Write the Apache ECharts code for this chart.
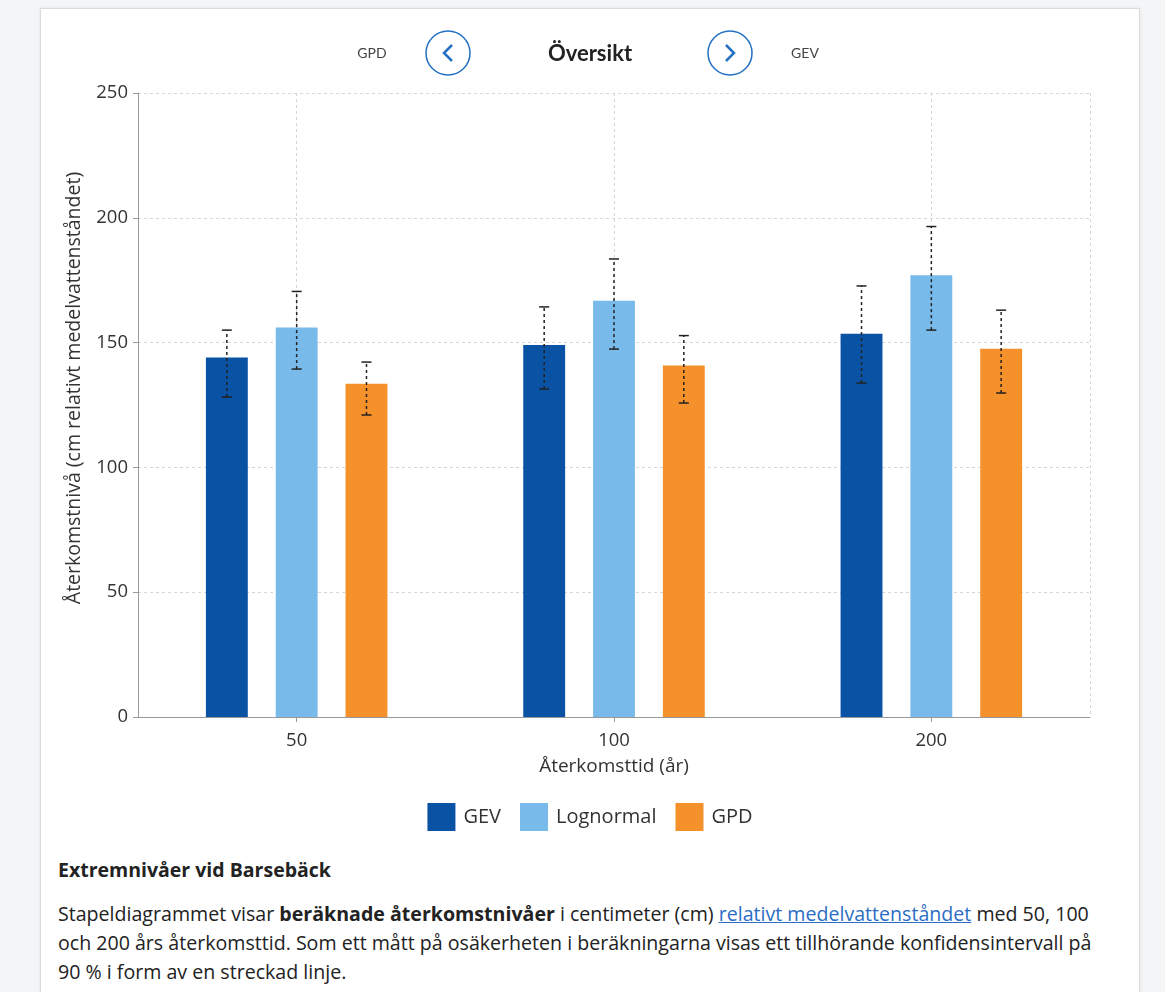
<!DOCTYPE html>
<html><head><meta charset="utf-8">
<script src="https://cdn.jsdelivr.net/npm/echarts@6/dist/echarts.min.js"></script>
<style>
html,body{margin:0;padding:0;background:#f4f5f7;width:1165px;height:992px;overflow:hidden;font-family:"Open Sans","Noto Sans",sans-serif;}
#card{position:absolute;left:40px;top:8px;width:1098px;height:1000px;background:#fff;border:1px solid #dcdcdc;box-shadow:0 0 3px rgba(0,0,0,0.08);}
#chart{position:absolute;left:40px;top:0;width:1100px;height:850px;}
#txt{position:absolute;left:58px;top:855px;width:1075px;color:#222;font-size:19.6px;line-height:29px;white-space:nowrap;}
#txt h4{margin:0 0 15px 0;font-size:19.5px;font-weight:bold;line-height:29px;}
#txt p{margin:0;}
#txt a{color:#2b6dc4;text-decoration:underline;}
</style></head>
<body>
<div id="card"></div>
<div id="chart"></div>
<div id="txt">
<h4>Extremnivåer vid Barsebäck</h4>
<p>Stapeldiagrammet visar <b>beräknade återkomstnivåer</b> i centimeter (cm) <a>relativt medelvattenståndet</a> med 50, 100<br>och 200 års återkomsttid. Som ett mått på osäkerheten i beräkningarna visas ett tillhörande konfidensintervall på<br>90 % i form av en streckad linje.</p>
</div>
<script>
const categories = ['50', '100', '200'];
const seriesNames = ['GEV', 'Lognormal', 'GPD'];
const gev = [144, 149, 153.5];
const lognormal = [156, 166.8, 177];
const gpd = [133.5, 140.8, 147.5];
const gevLow = [128.2, 131.4, 133.8];
const gevHigh = [155, 164.3, 172.7];
const logLow = [139.4, 147.4, 155];
const logHigh = [170.5, 183.5, 196.5];
const gpdLow = [121, 125.8, 129.8];
const gpdHigh = [142.2, 152.8, 163];
const yTicks = [0, 50, 100, 150, 200, 250];
const colors = ['#0a52a3', '#78baea', '#f5912a'];

const BAR_GAP = 0.667, CAT_GAP = 0.428;
const errData = [];
[[gevLow, gevHigh], [logLow, logHigh], [gpdLow, gpdHigh]].forEach((p, s) => {
  categories.forEach((c, i) => errData.push([i, p[0][i], p[1][i], s]));
});

const chart = echarts.init(document.getElementById('chart'));
const font = '"Open Sans","Noto Sans",sans-serif';
chart.setOption({
  animation: false,
  color: colors,
  textStyle: {fontFamily: font},
  grid: {left: 98, right: 50, top: 93, bottom: 133},
  legend: {
    data: seriesNames, left: 'center', top: 798, icon: 'rect',
    itemWidth: 28, itemHeight: 28, itemGap: 19,
    textStyle: {fontSize: 20, color: '#333', fontFamily: font, padding: [0, 0, 0, 3]}
  },
  graphic: [
    {type: 'text', left: 'center', top: 43, style: {text: 'Översikt', fill: '#222', font: 'bold 22px Lato, "Open Sans", sans-serif'}},
    {type: 'circle', shape: {cx: 408, cy: 53, r: 22}, style: {fill: '#fff', stroke: '#2470c2', lineWidth: 1.5}},
    {type: 'polyline', shape: {points: [[412, 45], [404, 53], [412, 61]]}, style: {stroke: '#2470c2', lineWidth: 2.5, fill: null}},
    {type: 'circle', shape: {cx: 690, cy: 53, r: 22}, style: {fill: '#fff', stroke: '#2470c2', lineWidth: 1.5}},
    {type: 'polyline', shape: {points: [[686, 45], [694, 53], [686, 61]]}, style: {stroke: '#2470c2', lineWidth: 2.5, fill: null}},
    {type: 'text', x: 332, y: 53, style: {text: 'GPD', font: '14px Lato, "Open Sans", sans-serif', fill: '#444', textAlign: 'center', textVerticalAlign: 'middle'}},
    {type: 'text', x: 765, y: 53, style: {text: 'GEV', font: '14px Lato, "Open Sans", sans-serif', fill: '#444', textAlign: 'center', textVerticalAlign: 'middle'}}
  ],
  xAxis: [{
    type: 'category', data: categories,
    name: 'Återkomsttid (år)', nameLocation: 'middle', nameGap: 40,
    nameTextStyle: {fontSize: 19, color: '#333'},
    axisLine: {lineStyle: {color: '#999', width: 1}},
    axisTick: {show: true, alignWithLabel: true, length: 5, lineStyle: {color: '#999'}},
    axisLabel: {fontSize: 18.5, color: '#333', margin: 14},
    splitLine: {show: false}
  }, {
    type: 'category', data: ['', '', '', '', '', '', ''], boundaryGap: false, position: 'top',
    axisLine: {show: false}, axisTick: {show: false}, axisLabel: {show: false},
    splitLine: {show: true, interval: (i) => i % 2 === 1 || i === 6, lineStyle: {color: '#d6d6d6', type: [3, 3], width: 1}}
  }],
  yAxis: {
    type: 'value', min: yTicks[0], max: yTicks[yTicks.length - 1], interval: 50,
    name: 'Återkomstnivå (cm relativt medelvattenståndet)', nameLocation: 'middle', nameGap: 54,
    nameTextStyle: {fontSize: 19.5, color: '#333', padding: [0, 0, 0, 34]},
    axisLine: {show: true, lineStyle: {color: '#999'}},
    axisTick: {show: true, length: 5, lineStyle: {color: '#999'}},
    axisLabel: {fontSize: 18.5, color: '#333', margin: 10},
    splitLine: {lineStyle: {color: '#d6d6d6', type: [3, 3]}}
  },
  series: [
    {name: 'GEV', type: 'bar', data: gev, barGap: (BAR_GAP * 100) + '%', barCategoryGap: (CAT_GAP * 100) + '%'},
    {name: 'Lognormal', type: 'bar', data: lognormal},
    {name: 'GPD', type: 'bar', data: gpd},
    {
      type: 'custom', name: 'ci', data: errData, z: 10, silent: true,
      renderItem: function (params, api) {
        const ci = api.value(0), s = api.value(3);
        const lo = api.coord([ci, api.value(1)]);
        const hi = api.coord([ci, api.value(2)]);
        const catW = api.size([1, 0])[0];
        const bw = catW * (1 - CAT_GAP) / (3 + 2 * BAR_GAP);
        const x = lo[0] + (s - 1) * bw * (1 + BAR_GAP);
        const cap = 5;
        return {type: 'group', children: [
          {type: 'line', shape: {x1: x, y1: lo[1], x2: x, y2: hi[1]}, style: {stroke: '#222', lineWidth: 1.5, lineDash: [3, 3]}},
          {type: 'line', shape: {x1: x - cap, y1: hi[1], x2: x + cap, y2: hi[1]}, style: {stroke: '#222', lineWidth: 1.5}},
          {type: 'line', shape: {x1: x - cap, y1: lo[1], x2: x + cap, y2: lo[1]}, style: {stroke: '#222', lineWidth: 1.5}}
        ]};
      }
    }
  ]
});
</script>
</body></html>
